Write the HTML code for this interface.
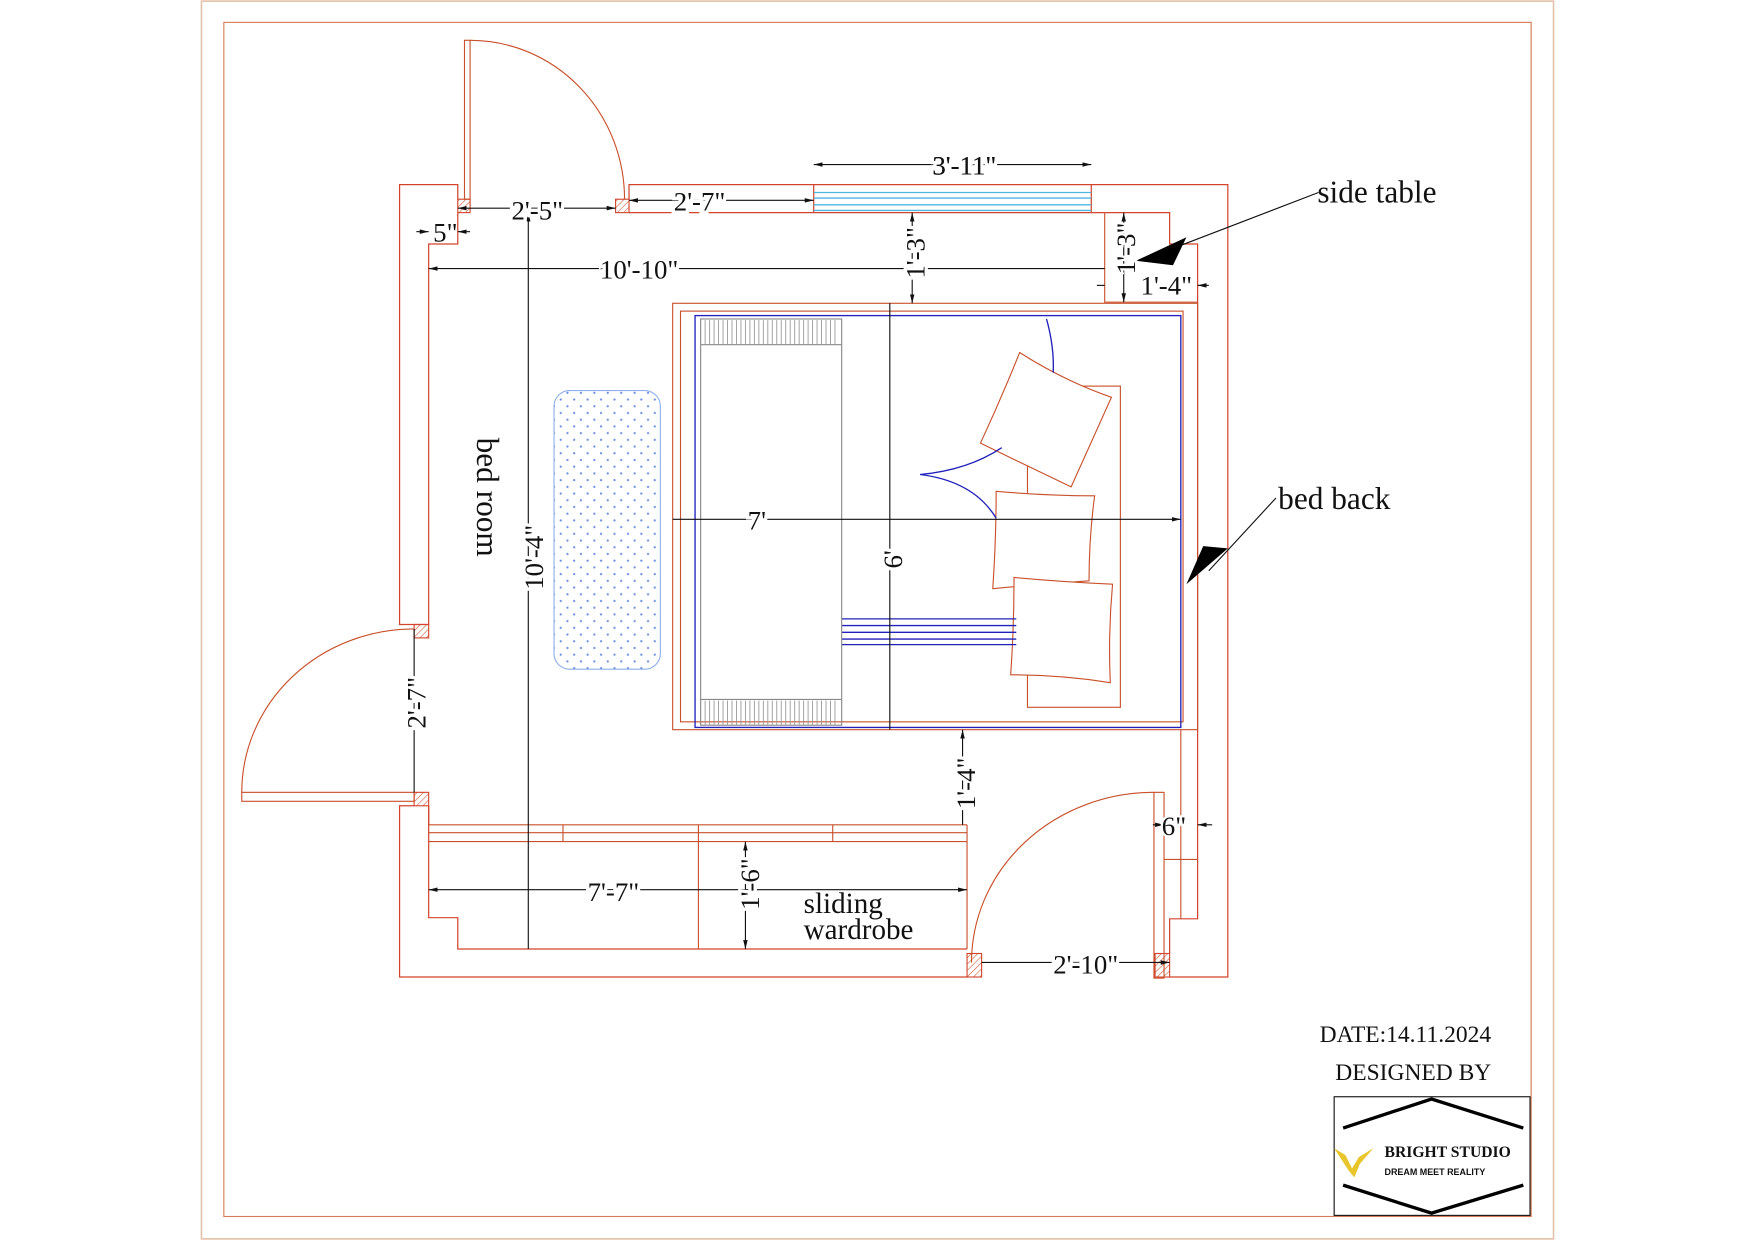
<!DOCTYPE html>
<html><head><meta charset="utf-8"><style>
html,body{margin:0;padding:0;background:#fff;width:1755px;height:1240px;overflow:hidden}
svg{display:block}
text{font-family:"Liberation Serif",serif;fill:#111}
</style></head><body>
<svg width="1755" height="1240" viewBox="0 0 1568 1108" preserveAspectRatio="none" xmlns="http://www.w3.org/2000/svg">
<defs>
<pattern id="h" width="4" height="4" patternUnits="userSpaceOnUse" patternTransform="rotate(45)"><line x1="0" y1="0" x2="0" y2="4" stroke="#c8502a" stroke-width="1"/></pattern>
<pattern id="dots" width="12" height="12" patternUnits="userSpaceOnUse"><circle cx="3" cy="3" r="1" fill="#6a8ee0"/><circle cx="9" cy="9" r="1" fill="#6a8ee0"/></pattern>
<marker id="a" markerWidth="8" markerHeight="6" refX="8" refY="3" orient="auto-start-reverse" markerUnits="userSpaceOnUse"><path d="M0,1 L8,3 L0,5 Z" fill="#111"/></marker>
</defs>
<rect x="180" y="1" width="1208" height="1106" fill="none" stroke="#e3c4ad" stroke-width="1.5"/>
<rect x="200" y="20" width="1168" height="1067" fill="none" stroke="#d77a56" stroke-width="1"/>
<g fill="none" stroke="#d2452c" stroke-width="1.1">
<!-- left wall upper -->
<polyline points="409,178 409,165 357,165 357,558 383,558 383,218 409,218 409,190"/>
<!-- top wall -->
<polyline points="562,178 562,165 1097,165 1097,873 1045,873"/>
<line x1="562" y1="190" x2="987" y2="190"/>
<line x1="727" y1="165" x2="727" y2="190"/><line x1="975" y1="165" x2="975" y2="190"/>
<polyline points="987,190 1045,190 1045,218 1070,218 1070,821 1045,821 1045,852"/>
<!-- left lower & bottom -->
<polyline points="370,720 357,720 357,873 864,873"/>
<polyline points="383,720 383,820 409,820 409,848 864,848"/>
<line x1="383" y1="720" x2="383" y2="737"/>
</g>
<g stroke="#d2452c" stroke-width="1" fill="url(#h)">
<rect x="409" y="178" width="11" height="12"/>
<rect x="550" y="178" width="12" height="12"/>
<rect x="370" y="558" width="13" height="12"/>
<rect x="370" y="708" width="13" height="12"/>
<rect x="864" y="852" width="13" height="21"/>
<rect x="1032" y="852" width="13" height="21"/>
</g>
<g fill="none" stroke="#c8502a" stroke-width="1">
<!-- top door -->
<rect x="415" y="36" width="5" height="142"/>
<path d="M420,36 A138,142 0 0 1 558,178"/>
<!-- left door -->
<rect x="216" y="708" width="154" height="8"/>
<path d="M216,708 A154,146 0 0 1 370,562"/>
<!-- right door -->
<rect x="1031" y="708" width="9" height="166"/>
<path d="M1031,708 A163,152 0 0 0 868,860"/>
<line x1="1055" y1="652" x2="1055" y2="821"/>
<line x1="1040" y1="768" x2="1070" y2="768"/>
<!-- side table -->
<polyline points="987,190 987,270 1070,270"/>
<!-- wardrobe -->
<line x1="383" y1="737" x2="864" y2="737"/><line x1="383" y1="744" x2="864" y2="744"/><line x1="383" y1="752" x2="864" y2="752"/>
<line x1="503" y1="737" x2="503" y2="752"/><line x1="624" y1="737" x2="624" y2="848"/><line x1="744" y1="737" x2="744" y2="752"/>
<line x1="864" y1="737" x2="864" y2="848"/>
<!-- bed -->
<rect x="601" y="271" width="469" height="381"/>
<rect x="608" y="278" width="449" height="367"/>
<rect x="918" y="345" width="83" height="287"/>
<path d="M911,315 Q950,340 993,355 Q975,395 957,435 Q915,415 876,396 Q895,355 911,315Z" fill="#fff"/>
<path d="M890,439 Q935,443 978,443 Q973,480 973,519 Q930,522 887,526 Q890,482 890,439Z" fill="#fff"/>
<path d="M906,516 Q950,520 994,522 Q990,566 992,610 Q948,603 903,603 Q906,560 906,516Z" fill="#fff"/>
</g>
<g fill="none" stroke="#2222bb" stroke-width="1.2">
<rect x="621" y="282" width="434" height="368"/>
<line x1="752" y1="553" x2="908" y2="553"/><line x1="752" y1="559" x2="908" y2="559"/><line x1="752" y1="565" x2="908" y2="565"/><line x1="752" y1="571" x2="908" y2="571"/><line x1="752" y1="576" x2="908" y2="576"/>
<path d="M935,285 Q942,310 941,333"/>
<path d="M822,424 Q865,420 895,400 M822,424 Q870,430 890,463"/>
</g>
<g fill="none" stroke="#888" stroke-width="1">
<rect x="626" y="285" width="126" height="363"/>
<line x1="626" y1="308" x2="752" y2="308"/><line x1="626" y1="625" x2="752" y2="625"/>
</g>
<g stroke="#999" stroke-width="0.8">
<path d="M630,286v22M634,286v22M638,286v22M642,286v22M646,286v22M650,286v22M654,286v22M658,286v22M662,286v22M666,286v22M670,286v22M674,286v22M678,286v22M682,286v22M686,286v22M690,286v22M694,286v22M698,286v22M702,286v22M706,286v22M710,286v22M714,286v22M718,286v22M722,286v22M726,286v22M730,286v22M734,286v22M738,286v22M742,286v22M746,286v22"/>
<path d="M630,626v22M634,626v22M638,626v22M642,626v22M646,626v22M650,626v22M654,626v22M658,626v22M662,626v22M666,626v22M670,626v22M674,626v22M678,626v22M682,626v22M686,626v22M690,626v22M694,626v22M698,626v22M702,626v22M706,626v22M710,626v22M714,626v22M718,626v22M722,626v22M726,626v22M730,626v22M734,626v22M738,626v22M742,626v22M746,626v22"/>
</g>
<g stroke="#4fb6e0" stroke-width="1.2"><line x1="727" y1="172" x2="975" y2="172"/><line x1="727" y1="177" x2="975" y2="177"/><line x1="727" y1="183" x2="975" y2="183"/><line x1="727" y1="188" x2="975" y2="188"/></g>
<rect x="495" y="349" width="95" height="249" rx="14" fill="url(#dots)" stroke="#8fb0e8" stroke-width="1"/>
<!-- dimensions -->
<g stroke="#111" stroke-width="1" fill="none">
<line x1="727" y1="147" x2="975" y2="147" marker-start="url(#a)" marker-end="url(#a)"/>
<line x1="409" y1="186" x2="550" y2="186" marker-start="url(#a)" marker-end="url(#a)"/>
<line x1="562" y1="179" x2="727" y2="179" marker-start="url(#a)" marker-end="url(#a)"/>
<line x1="372" y1="207" x2="383" y2="207" marker-end="url(#a)"/><line x1="420" y1="207" x2="409" y2="207" marker-end="url(#a)"/>
<line x1="383" y1="240" x2="987" y2="240" marker-start="url(#a)"/>
<line x1="472" y1="190" x2="472" y2="848" marker-start="url(#a)"/>
<line x1="815" y1="190" x2="815" y2="271" marker-start="url(#a)" marker-end="url(#a)"/>
<line x1="1004" y1="190" x2="1004" y2="270" marker-start="url(#a)" marker-end="url(#a)"/>
<line x1="980" y1="255" x2="987" y2="255"/><line x1="1080" y1="255" x2="1070" y2="255" marker-end="url(#a)"/>
<line x1="601" y1="464" x2="1055" y2="464" marker-end="url(#a)"/>
<line x1="795" y1="271" x2="795" y2="652"/>
<line x1="860" y1="652" x2="860" y2="737" marker-start="url(#a)"/>
<line x1="370" y1="562" x2="370" y2="708"/>
<line x1="383" y1="795" x2="864" y2="795" marker-start="url(#a)" marker-end="url(#a)"/>
<line x1="666" y1="752" x2="666" y2="848" marker-start="url(#a)" marker-end="url(#a)"/>
<line x1="877" y1="860" x2="1045" y2="860" marker-end="url(#a)"/>
<line x1="1030" y1="737" x2="1040" y2="737" marker-end="url(#a)"/><line x1="1083" y1="737" x2="1070" y2="737" marker-end="url(#a)"/>
<line x1="1178" y1="172" x2="1040" y2="225"/>
<line x1="1140" y1="445" x2="1080" y2="510"/>
</g>
<path d="M1060,212 L1015,233 L1048,237 Z" fill="#000"/>
<path d="M1097,490 L1060,522 L1075,488 Z" fill="#000"/>
<g font-size="24">
<text x="833" y="156" fill="#111" style="paint-order:stroke" stroke="#fff" stroke-width="6">3'-11"</text>
<text x="833" y="156">3'-11"</text>
<text x="457" y="196" stroke="#fff" stroke-width="6" style="paint-order:stroke">2'-5"</text>
<text x="602" y="188" stroke="#fff" stroke-width="6" style="paint-order:stroke">2'-7"</text>
<text x="387" y="216">5"</text>
<text x="536" y="249" stroke="#fff" stroke-width="6" style="paint-order:stroke">10'-10"</text>
<text x="1019" y="263" stroke="#fff" stroke-width="4" style="paint-order:stroke">1'-4"</text>
<text x="668" y="473" stroke="#fff" stroke-width="6" style="paint-order:stroke">7'</text>
<text x="525" y="805" stroke="#fff" stroke-width="6" style="paint-order:stroke">7'-7"</text>
<text x="941" y="870" stroke="#fff" stroke-width="6" style="paint-order:stroke">2'-10"</text>
<text x="1038" y="746" stroke="#fff" stroke-width="4" style="paint-order:stroke">6"</text>
<text transform="translate(826,249) rotate(-90)" stroke="#fff" stroke-width="6" style="paint-order:stroke">1'-3"</text>
<text transform="translate(1014,245) rotate(-90)" stroke="#fff" stroke-width="4" style="paint-order:stroke">1'-3"</text>
<text transform="translate(485,527) rotate(-90)" stroke="#fff" stroke-width="6" style="paint-order:stroke">10'-4"</text>
<text transform="translate(806,508) rotate(-90)" stroke="#fff" stroke-width="6" style="paint-order:stroke">6'</text>
<text transform="translate(871,723) rotate(-90)" stroke="#fff" stroke-width="6" style="paint-order:stroke">1'-4"</text>
<text transform="translate(380,651) rotate(-90)" stroke="#fff" stroke-width="6" style="paint-order:stroke">2'-7"</text>
<text transform="translate(678,813) rotate(-90)" stroke="#fff" stroke-width="6" style="paint-order:stroke">1'-6"</text>
<text transform="translate(426,391) rotate(90)" font-size="28">bed room</text>
<text x="718" y="816" font-size="26">sliding</text>
<text x="718" y="839" font-size="26">wardrobe</text>
<text x="1177" y="181" font-size="28">side table</text>
<text x="1142" y="455" font-size="28">bed back</text>
<text x="1179" y="931" font-size="21">DATE:14.11.2024</text>
<text x="1193" y="965" font-size="21">DESIGNED BY</text>
</g>
<rect x="1192" y="980" width="175" height="106" fill="#fff" stroke="#111" stroke-width="1"/>
<path d="M1200,1008 L1279,982 L1361,1008" fill="none" stroke="#000" stroke-width="3"/>
<path d="M1200,1059 L1279,1084 L1361,1059" fill="none" stroke="#000" stroke-width="3"/>
<path d="M1192,1026 L1205,1046 L1210,1052 L1215,1040 L1227,1026 L1214,1034 L1208,1044 L1202,1032 Z" fill="#e8c52a"/>
<text x="1237" y="1034" font-size="14" font-weight="bold" style="font-family:'Liberation Serif',serif">BRIGHT  STUDIO</text>
<text x="1237" y="1050" font-size="8" font-weight="bold" style="font-family:'Liberation Sans',sans-serif">DREAM MEET REALITY</text>
</svg>
</body></html>
